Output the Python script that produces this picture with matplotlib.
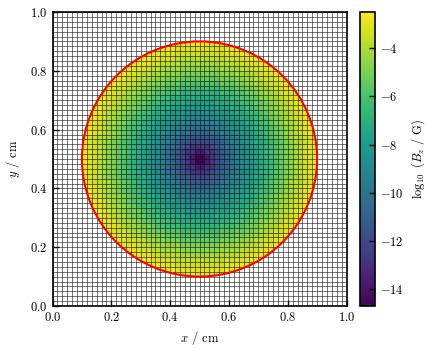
import numpy as np
import matplotlib
matplotlib.use("Agg")
import matplotlib.pyplot as plt
from matplotlib.patches import Circle

plt.rcParams.update({
    "font.family": "serif",
    "font.serif": ["cmr10"],
    "mathtext.fontset": "cm",
    "axes.formatter.use_mathtext": True,
    "font.size": 9,
    "xtick.direction": "in",
    "ytick.direction": "in",
})

N_CELLS = 60          # cells per side
CENTRE = (0.5, 0.5)   # cm
RADIUS = 0.4          # cm

# log10(Bz / G), one value per cell step of radius (k/60 cm)
log_bz_profile = [-14.7, -13.7, -12.8, -12.0, -11.3, -10.7, -10.2, -9.6, -9.1,
                  -8.6, -8.1, -7.7, -7.2, -6.8, -6.3, -5.9, -5.4, -5.0, -4.6,
                  -4.2, -3.8, -3.4, -3.1, -2.8, -2.5]

x_ticks = [0.0, 0.2, 0.4, 0.6, 0.8, 1.0]
cbar_ticks = [-4, -6, -8, -10, -12, -14]

edges = np.linspace(0, 1, N_CELLS + 1)
mids = 0.5 * (edges[1:] + edges[:-1])
X, Y = np.meshgrid(mids, mids)
R = np.hypot(X - CENTRE[0], Y - CENTRE[1])
k = np.floor(R * N_CELLS).astype(int)
prof = np.array(log_bz_profile)
Z = np.full(R.shape, np.nan)
inside = k < len(prof)
Z[inside] = prof[k[inside]]

fig = plt.figure(figsize=(4.37, 3.52), dpi=100)
ax = fig.add_axes([52/437, 1 - 306/352, 295/437, 294/352])
cax = fig.add_axes([360/437, 1 - 306/352, 15/437, 294/352])

mesh = ax.pcolormesh(edges, edges, Z, cmap="viridis",
                     vmin=min(log_bz_profile), vmax=max(log_bz_profile))
circ = Circle(CENTRE, RADIUS, facecolor="none", edgecolor="red", lw=1.5, zorder=5)
ax.add_patch(circ)
mesh.set_clip_path(circ)

# computational grid
ax.vlines(edges, 0, 1, colors="k", lw=0.5, alpha=0.75, zorder=3)
ax.hlines(edges, 0, 1, colors="k", lw=0.5, alpha=0.75, zorder=3)

ax.set_xlim(0, 1)
ax.set_ylim(0, 1)
ax.set_aspect("equal")
ax.set_xticks(x_ticks)
ax.set_yticks(x_ticks)
ax.tick_params(length=4, width=1, top=False, right=False)
for s in ax.spines.values():
    s.set_linewidth(1.2)
    s.set_zorder(6)
ax.set_xlabel(r"$x$ / cm")
ax.set_ylabel(r"$y$ / cm", labelpad=6)

cb = fig.colorbar(mesh, cax=cax)
cb.set_ticks(cbar_ticks)
cb.ax.tick_params(direction="in", length=4, width=1)
cb.outline.set_linewidth(1.2)
cb.set_label(r"$\log_{10}\ (B_z\ /\ \mathrm{G})$")

fig.savefig("out.png", dpi=100)
